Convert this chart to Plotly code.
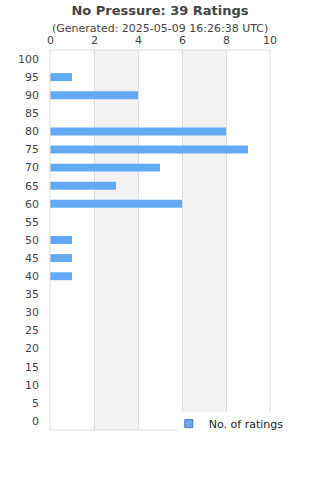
import plotly.graph_objects as go

categories = [0, 5, 10, 15, 20, 25, 30, 35, 40, 45, 50, 55, 60, 65, 70, 75, 80, 85, 90, 95, 100]
ratings = [0, 0, 0, 0, 0, 0, 0, 0, 1, 1, 1, 0, 6, 3, 5, 9, 8, 0, 4, 1, 0]
x_ticks = [0, 2, 4, 6, 8, 10]
series_name = "No. of ratings"

fig = go.Figure()
fig.add_trace(go.Bar(
    x=ratings, y=categories, orientation="h", name=series_name,
    width=2.2, marker=dict(color="#63a9f3", line=dict(width=0)),
    showlegend=False,
))
fig.add_trace(go.Scatter(
    x=[None], y=[None], mode="markers", name=series_name,
    marker=dict(symbol="square", size=8, color="#63a9f3", line=dict(color="#4f79b0", width=1)),
    showlegend=True,
))

shapes = []
for a, b in [(2, 4), (6, 8)]:
    shapes.append(dict(type="rect", xref="x", yref="paper", x0=a, x1=b, y0=0, y1=1,
                       fillcolor="#f3f3f3", line=dict(width=0), layer="below"))
shapes.append(dict(type="rect", xref="paper", yref="paper", x0=0, x1=1, y0=0, y1=1,
                   fillcolor="rgba(0,0,0,0)", line=dict(color="#dddddd", width=1), layer="above"))
shapes.append(dict(type="rect", xref="paper", yref="paper", x0=0.582, x1=1.05, y0=-0.01, y1=0.047,
                   fillcolor="white", line=dict(width=0), layer="above"))

annotations = [dict(text="(Generated: 2025-05-09 16:26:38 UTC)", xref="paper", yref="paper",
                    x=0.5, y=1.0, yshift=22, showarrow=False, xanchor="center", yanchor="middle",
                    font=dict(size=11, color="#444444"))]
for t in x_ticks:
    annotations.append(dict(text=str(t), xref="x", yref="paper", x=t, y=1.0, yshift=10,
                            showarrow=False, xanchor="center", yanchor="middle",
                            font=dict(size=11, color="#444444")))

fig.update_layout(
    width=320, height=480,
    margin=dict(l=50, r=50, t=50, b=50),
    paper_bgcolor="white", plot_bgcolor="white",
    font=dict(family="DejaVu Sans", color="#444444", size=11),
    title=dict(text="<b>No Pressure: 39 Ratings</b>", x=0.5, xanchor="center",
               y=0.979, yanchor="middle", font=dict(size=13, color="#444444")),
    annotations=annotations,
    xaxis=dict(side="top", range=[0, 10], tickvals=x_ticks, showgrid=True, gridcolor="#dddddd",
               zeroline=False, showline=False, ticks="", showticklabels=False),
    yaxis=dict(range=[-2.5, 102.5], tickvals=categories, showgrid=False, zeroline=False,
               showline=False, ticks="", ticklabelstandoff=10, tickfont=dict(size=11)),
    shapes=shapes,
    legend=dict(x=0.54, y=0.055, xanchor="left", yanchor="top", bgcolor="rgba(0,0,0,0)",
                font=dict(size=11, color="#222222")),
)

fig.write_html("out.html")
